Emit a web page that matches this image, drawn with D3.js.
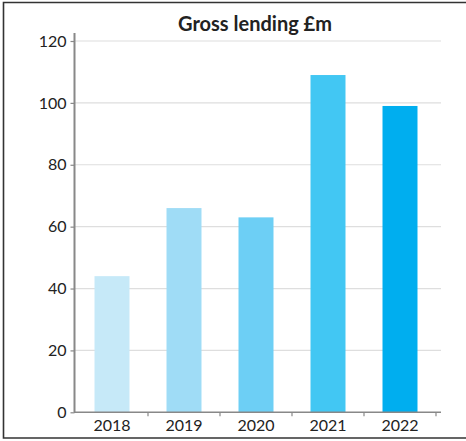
<!DOCTYPE html>
<html>
<head>
<meta charset="utf-8">
<script src="https://cdn.jsdelivr.net/npm/d3@7"></script>
<style>
  body { margin: 0; background: #fff; }
  svg { display: block; }
</style>
</head>
<body>
<svg id="chart" width="466" height="441"></svg>
<script>
// Gross lending by year, £m
const years = ["2018", "2019", "2020", "2021", "2022"];
const lending = [44, 66, 63, 109, 99];
const barColors = ["#c6e9f8", "#9fdcf6", "#6dcff5", "#42c7f3", "#00aeef"];
const yTicks = [0, 20, 40, 60, 80, 100, 120];

const font = "Lato, 'Noto Sans', sans-serif";
const svg = d3.select("#chart")
  .style("font-family", font);

// outer frame (right edge runs off the picture)
svg.append("path")
  .attr("d", "M470,2.5 H3.5 V438 H470")
  .attr("fill", "none")
  .attr("stroke", "#333")
  .attr("stroke-width", 1.6);

const x = d3.scaleBand()
  .domain(years)
  .range([76, 436])
  .paddingInner(0.514)
  .paddingOuter(0.257);

const y = d3.scaleLinear()
  .domain([0, 120])
  .range([412.3, 41]);

// gridlines
svg.append("g")
  .selectAll("line")
  .data(yTicks.filter(d => d > 0))
  .join("line")
  .attr("x1", 75)
  .attr("x2", 441)
  .attr("y1", d => y(d))
  .attr("y2", d => y(d))
  .attr("stroke", "#dedede")
  .attr("stroke-width", 1.2);

// bars
svg.append("g")
  .selectAll("rect")
  .data(years)
  .join("rect")
  .attr("x", d => x(d))
  .attr("width", x.bandwidth())
  .attr("y", (d, i) => y(lending[i]))
  .attr("height", (d, i) => y(0) - y(lending[i]))
  .attr("fill", (d, i) => barColors[i]);

// y axis
const yAxis = svg.append("g")
  .attr("transform", "translate(74.5,0)")
  .call(d3.axisLeft(y).tickValues(yTicks).tickSize(4).tickPadding(4).tickSizeOuter(0))
  .attr("font-family", font)
  .attr("font-size", 16);
yAxis.select(".domain").remove();
yAxis.selectAll(".tick line").attr("stroke", "#888").attr("stroke-width", 1.2);
yAxis.selectAll(".tick text").attr("fill", "#222");
yAxis.append("line")
  .attr("y1", 33)
  .attr("y2", y(0))
  .attr("stroke", "#888")
  .attr("stroke-width", 2);

// x axis
const xAxis = svg.append("g")
  .attr("transform", `translate(0,${y(0)})`)
  .call(d3.axisBottom(x).tickSize(0).tickPadding(7))
  .attr("font-family", font)
  .attr("font-size", 16);
xAxis.select(".domain").remove();
xAxis.selectAll(".tick text").attr("fill", "#222");
xAxis.append("line")
  .attr("x1", 74)
  .attr("x2", 441)
  .attr("stroke", "#888")
  .attr("stroke-width", 1.5);
// ticks between categories
xAxis.selectAll(".sep")
  .data(years)
  .join("line")
  .attr("class", "sep")
  .attr("x1", d => x(d) - x.step() * x.paddingOuter() + x.step())
  .attr("x2", d => x(d) - x.step() * x.paddingOuter() + x.step())
  .attr("y1", 0)
  .attr("y2", 4)
  .attr("stroke", "#888")
  .attr("stroke-width", 1.2);

// title
svg.append("text")
  .attr("x", 255)
  .attr("y", 31)
  .attr("text-anchor", "middle")
  .attr("fill", "#222")
  .style("font-size", "20px")
  .style("font-weight", "bold")
  .text("Gross lending £m");
</script>
</body>
</html>
